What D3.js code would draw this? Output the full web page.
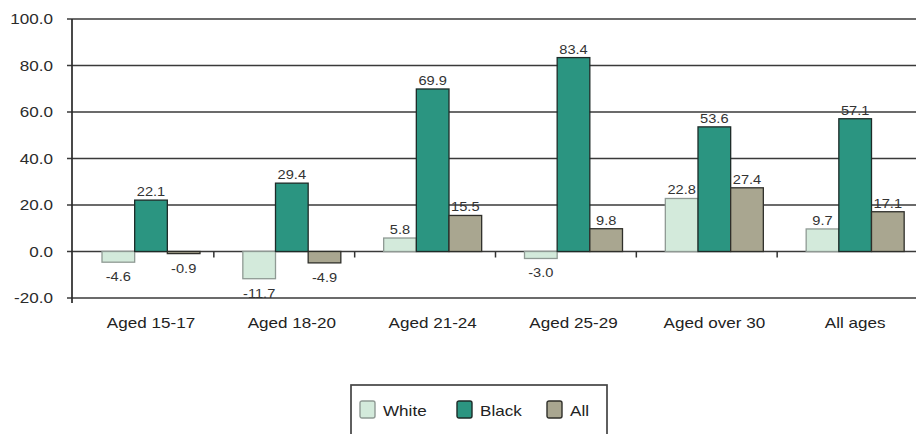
<!DOCTYPE html>
<html>
<head>
<meta charset="utf-8">
<script src="https://cdn.jsdelivr.net/npm/d3@7"></script>
<style>
  body { margin: 0; background: #fff; }
  svg { display: block; font-family: "Liberation Sans", Arial, sans-serif; }
</style>
</head>
<body>
<div id="chart"></div>
<script>
// data
const categories = ["Aged 15-17", "Aged 18-20", "Aged 21-24", "Aged 25-29", "Aged over 30", "All ages"];
const seriesNames = ["White", "Black", "All"];
const whiteValues = [-4.6, -11.7, 5.8, -3.0, 22.8, 9.7];
const blackValues = [22.1, 29.4, 69.9, 83.4, 53.6, 57.1];
const allValues = [-0.9, -4.9, 15.5, 9.8, 27.4, 17.1];
const yTicks = [-20, 0, 20, 40, 60, 80, 100];

function drawChart() {
    const width = 916;
    const height = 434;
    const stretch = 1.22; // the original text is rendered wide

    const colors = { White: "#d3eadb", Black: "#2b9581", All: "#a9a690" };
    const strokes = { White: "#8f9a94", Black: "#1d2b28", All: "#2f2f2a" };
    const valuesBySeries = { White: whiteValues, Black: blackValues, All: allValues };

    const svg = d3.select("#chart")
        .append("svg")
        .attr("width", width)
        .attr("height", height);

    const plotLeft = 73;
    const plotRight = 918;

    const y = d3.scaleLinear()
        .domain([-20, 100])
        .range([298, 19]);

    const x0 = d3.scaleBand()
        .domain(categories)
        .range([plotLeft, plotRight]);

    // bars sit slightly right of the band centre, as in the original
    const x1 = d3.scaleBand()
        .domain(seriesNames)
        .range([29, 127]);
    const groupCentre = (29 + 127) / 2;

    const place = (px, py) => `translate(${px},${py}) scale(${stretch},1)`;

    // gridlines
    svg.append("g")
        .selectAll("line")
        .data(yTicks)
        .enter()
        .append("line")
        .attr("x1", plotLeft - 6)
        .attr("x2", width)
        .attr("y1", d => y(d))
        .attr("y2", d => y(d))
        .attr("stroke", "#3a3a3a")
        .attr("stroke-width", 1.7);

    // y axis line
    svg.append("line")
        .attr("x1", plotLeft - 1)
        .attr("x2", plotLeft - 1)
        .attr("y1", y(100))
        .attr("y2", y(-20) + 5)
        .attr("stroke", "#2a2a2a")
        .attr("stroke-width", 1.7);

    // y tick labels
    svg.append("g")
        .selectAll("text")
        .data(yTicks)
        .enter()
        .append("text")
        .attr("transform", d => place(53, y(d) + 5))
        .attr("text-anchor", "end")
        .style("font-size", "14px")
        .style("fill", "#2b2b2b")
        .text(d => d.toFixed(1));

    // category separators under the zero line
    svg.append("g")
        .selectAll("line")
        .data(categories.slice(1))
        .enter()
        .append("line")
        .attr("x1", d => x0(d))
        .attr("x2", d => x0(d))
        .attr("y1", y(0))
        .attr("y2", y(0) + 6)
        .attr("stroke", "#333")
        .attr("stroke-width", 1.5);

    // bars
    const groups = svg.append("g")
        .selectAll("g")
        .data(categories)
        .enter()
        .append("g")
        .attr("transform", d => `translate(${x0(d)},0)`);

    groups.each(function (cat, ci) {
        const g = d3.select(this);
        const barData = seriesNames.map(s => ({ series: s, value: valuesBySeries[s][ci] }));

        g.selectAll("rect")
            .data(barData)
            .enter()
            .append("rect")
            .attr("x", d => x1(d.series))
            .attr("y", d => y(Math.max(0, d.value)))
            .attr("width", x1.bandwidth())
            .attr("height", d => Math.abs(y(d.value) - y(0)))
            .attr("fill", d => colors[d.series])
            .attr("stroke", d => strokes[d.series])
            .attr("stroke-width", 1.3);

        g.selectAll("text")
            .data(barData)
            .enter()
            .append("text")
            .attr("transform", d => place(
                x1(d.series) + x1.bandwidth() / 2,
                d.value >= 0 ? y(d.value) - 4 : y(d.value) + 19))
            .attr("text-anchor", "middle")
            .style("font-size", "12px")
            .style("fill", "#333")
            .text(d => d.value.toFixed(1));
    });

    // category labels
    svg.append("g")
        .selectAll("text")
        .data(categories)
        .enter()
        .append("text")
        .attr("transform", d => place(x0(d) + groupCentre, 328))
        .attr("text-anchor", "middle")
        .style("font-size", "14px")
        .style("fill", "#222")
        .text(d => d);

    // legend
    const legendGroup = svg.append("g");
    legendGroup.append("rect")
        .attr("x", 351)
        .attr("y", 385)
        .attr("width", 256)
        .attr("height", 60)
        .attr("fill", "none")
        .attr("stroke", "#444")
        .attr("stroke-width", 1.7);

    const legendX = [360, 457, 547];
    const legend = legendGroup.selectAll(".legend")
        .data(seriesNames)
        .enter()
        .append("g")
        .attr("class", "legend")
        .attr("transform", (d, i) => `translate(${legendX[i]},401)`);

    legend.append("rect")
        .attr("width", 15)
        .attr("height", 17)
        .attr("rx", 2)
        .attr("fill", d => colors[d])
        .attr("stroke", d => strokes[d])
        .attr("stroke-width", 1.4);

    legend.append("text")
        .attr("transform", place(23, 15))
        .style("font-size", "14px")
        .style("fill", "#222")
        .text(d => d);
}

drawChart();
</script>
</body>
</html>
